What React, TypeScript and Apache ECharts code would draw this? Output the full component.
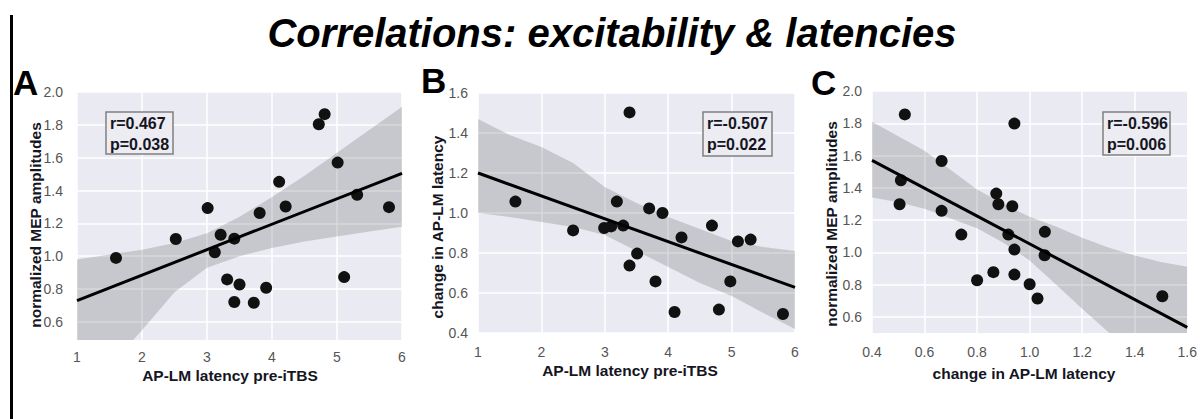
import React, { useEffect, useRef } from "react";
import * as echarts from "echarts";

// ---- Panel A: AP-LM latency pre-iTBS vs normalized MEP amplitudes
const aX = [1.6, 2.52, 3.01, 3.21, 3.12, 3.42, 3.31, 3.5, 3.42, 3.72, 3.91, 3.81, 4.11, 4.21, 4.72, 4.81, 5.01, 5.11, 5.31, 5.8];
const aY = [0.99, 1.105, 1.293, 1.131, 1.024, 1.107, 0.859, 0.828, 0.721, 0.717, 0.808, 1.263, 1.453, 1.303, 1.804, 1.865, 1.57, 0.873, 1.374, 1.299];
const aFit = [[1, 0.73], [6, 1.505]];
const aBandX = [1, 1.5, 2, 2.5, 3, 3.5, 4, 4.5, 5, 5.5, 6];
const aBandUpper = [0.98, 1.01, 1.04, 1.08, 1.14, 1.24, 1.36, 1.49, 1.63, 1.77, 1.91];
const aBandLower = [0.12, 0.33, 0.55, 0.78, 0.93, 1.0, 1.05, 1.09, 1.12, 1.15, 1.18];

// ---- Panel B: AP-LM latency pre-iTBS vs change in AP-LM latency
const bX = [1.59, 2.5, 2.99, 3.1, 3.29, 3.19, 3.39, 3.39, 3.51, 3.7, 3.91, 3.8, 4.21, 4.1, 4.69, 4.8, 4.98, 5.1, 5.3, 5.81];
const bY = [1.057, 0.913, 0.925, 0.933, 0.937, 1.057, 1.503, 0.737, 0.797, 1.023, 1.0, 0.658, 0.878, 0.505, 0.937, 0.517, 0.658, 0.858, 0.867, 0.495];
const bFit = [[1, 1.2], [6, 0.628]];
const bBandX = [1, 1.5, 2, 2.5, 3, 3.5, 4, 4.5, 5, 5.5, 6];
const bBandUpper = [1.47, 1.39, 1.33, 1.25, 1.13, 1.05, 0.98, 0.92, 0.86, 0.83, 0.81];
const bBandLower = [1.0, 0.98, 0.955, 0.93, 0.89, 0.81, 0.73, 0.65, 0.585, 0.5, 0.42];

// ---- Panel C: change in AP-LM latency vs normalized MEP amplitudes
const cX = [0.525, 0.51, 0.505, 0.665, 0.665, 0.74, 0.8, 0.862, 0.873, 0.881, 0.934, 0.942, 0.919, 0.942, 0.942, 1.0, 1.03, 1.058, 1.057, 1.505];
const cY = [1.855, 1.447, 1.298, 1.566, 1.257, 1.11, 0.827, 0.877, 1.364, 1.298, 1.286, 1.798, 1.11, 1.017, 0.862, 0.802, 0.714, 1.127, 0.982, 0.728];
const cFit = [[0.4, 1.57], [1.6, 0.535]];
const cBandX = [0.4, 0.5, 0.6, 0.7, 0.8, 0.9, 1.0, 1.1, 1.2, 1.3, 1.4, 1.5, 1.6];
const cBandUpper = [1.81, 1.72, 1.63, 1.51, 1.39, 1.3, 1.22, 1.16, 1.09, 1.03, 0.98, 0.94, 0.91];
const cBandLower = [1.34, 1.31, 1.27, 1.21, 1.15, 1.06, 0.95, 0.8, 0.65, 0.505, 0.36, 0.22, 0.08];

// ---- Axis ticks
const ampTicks = [0.6, 0.8, 1.0, 1.2, 1.4, 1.6, 1.8, 2.0];
const changeTicksY = [0.4, 0.6, 0.8, 1.0, 1.2, 1.4, 1.6];
const latencyTicksX = [1, 2, 3, 4, 5, 6];
const changeTicksX = [0.4, 0.6, 0.8, 1.0, 1.2, 1.4, 1.6];

// ---- Texts
const titleText = "Correlations: excitability & latencies";
const panelLetters = ["A", "B", "C"];
const xNames = ["AP-LM latency pre-iTBS", "AP-LM latency pre-iTBS", "change in AP-LM latency"];
const yNames = ["normalized MEP amplitudes", "change in AP-LM latency", "normalized MEP amplitudes"];
const statsR = ["r=0.467", "r=-0.507", "r=-0.596"];
const statsP = ["p=0.038", "p=0.022", "p=0.006"];

const FONT = "'Liberation Sans', Arial, Helvetica, sans-serif";
const BG = "#eaeaf2";
const TICK_COLOR = "#555";
const TEXT_DARK = "#15151f";

export default function App() {
  const ref = useRef<HTMLDivElement>(null);

  useEffect(() => {
    if (!ref.current) return;
    const chart = echarts.init(ref.current, undefined, { renderer: "svg" });

    const grids = [
      { left: 77, top: 92, width: 325, height: 248 },
      { left: 478, top: 93, width: 317, height: 240 },
      { left: 872, top: 91, width: 319, height: 242 },
    ];

    const gridCfg = grids.map((g) => ({
      ...g,
      show: true,
      backgroundColor: BG,
      borderWidth: 0,
      containLabel: false,
    }));

    const splitLine = { show: true, lineStyle: { color: "#ffffff", width: 1.5 } };
    const fmt1 = (v: number) => v.toFixed(1);
    const mkAxis = (
      gridIndex: number,
      min: number,
      max: number,
      ticks: number[],
      margin: number,
      formatter?: (v: number) => string
    ) => ({
      type: "value" as const,
      gridIndex,
      min,
      max,
      axisLine: { show: false },
      axisTick: { show: false, customValues: ticks },
      splitLine,
      axisLabel: {
        color: TICK_COLOR,
        fontSize: 14,
        fontFamily: FONT,
        margin,
        customValues: ticks,
        ...(formatter ? { formatter } : {}),
      },
    });

    const xAxes = [
      mkAxis(0, 1, 6, latencyTicksX, 10),
      mkAxis(1, 1, 6, latencyTicksX, 12),
      mkAxis(2, 0.4, 1.6, changeTicksX, 12, fmt1),
    ];
    const yAxes = [
      mkAxis(0, 0.49, 2.0, ampTicks, 14, fmt1),
      mkAxis(1, 0.4, 1.6, changeTicksY, 10, fmt1),
      mkAxis(2, 0.5, 2.0, ampTicks, 10, fmt1),
    ];

    const panels = [
      { x: aX, y: aY, fit: aFit, bx: aBandX, bu: aBandUpper, bl: aBandLower },
      { x: bX, y: bY, fit: bFit, bx: bBandX, bu: bBandUpper, bl: bBandLower },
      { x: cX, y: cY, fit: cFit, bx: cBandX, bu: cBandUpper, bl: cBandLower },
    ];

    const series: any[] = [];
    panels.forEach((p, i) => {
      const rows = p.bx.map((xv, k) => [xv, p.bl[k], p.bu[k]]);
      series.push({
        type: "custom",
        xAxisIndex: i,
        yAxisIndex: i,
        data: rows,
        clip: true,
        silent: true,
        z: 1,
        encode: { x: 0, y: [1, 2] },
        renderItem: (params: any, api: any) => {
          if (params.dataIndex !== 0) return null;
          const upperPts = rows.map((r) => api.coord([r[0], r[2]]));
          const lowerPts = rows.map((r) => api.coord([r[0], r[1]])).reverse();
          const cs = params.coordSys;
          return {
            type: "group",
            children: [
              {
                type: "polygon",
                shape: { points: upperPts.concat(lowerPts) },
                style: { fill: "rgba(0,0,0,0.15)" },
              },
            ],
            clipPath: {
              type: "rect",
              shape: { x: cs.x, y: cs.y, width: cs.width, height: cs.height },
            },
          };
        },
      });
      series.push({
        type: "scatter",
        xAxisIndex: i,
        yAxisIndex: i,
        data: p.x.map((xv, k) => [xv, p.y[k]]),
        symbolSize: 12,
        itemStyle: { color: "#111111", opacity: 1 },
        z: 3,
      });
      series.push({
        type: "line",
        xAxisIndex: i,
        yAxisIndex: i,
        data: p.fit,
        symbol: "none",
        lineStyle: { color: "#000000", width: 3 },
        z: 4,
      });
    });

    // "top"-aligned text: baseline sits at about y + 0.85 * fontSize
    const letterPos = [
      { x: 13, y: 65 },
      { x: 421, y: 63 },
      { x: 811, y: 65 },
    ];
    const xNamePos = [
      { x: 230, y: 367 },
      { x: 630, y: 362 },
      { x: 1024, y: 365 },
    ];
    const yNamePos = [
      { x: 35, y: 225 },
      { x: 437, y: 227 },
      { x: 831, y: 224 },
    ];
    const boxPos = [
      { x: 106, y: 112, w: 67, h: 42 },
      { x: 703, y: 112, w: 69, h: 44 },
      { x: 1103, y: 112, w: 67, h: 43 },
    ];

    const graphics: any[] = [
      {
        type: "rect",
        shape: { x: 10, y: 15, width: 3, height: 404 },
        style: { fill: "#000" },
      },
      {
        type: "text",
        x: 612,
        y: 13,
        style: {
          text: titleText,
          font: `italic bold 40px ${FONT}`,
          fill: "#000",
          align: "center",
          verticalAlign: "top",
        },
      },
    ];

    panelLetters.forEach((L, i) => {
      graphics.push({
        type: "text",
        x: letterPos[i].x,
        y: letterPos[i].y,
        style: { text: L, font: `bold 35px ${FONT}`, fill: "#000", align: "left", verticalAlign: "top" },
      });
      graphics.push({
        type: "text",
        x: xNamePos[i].x,
        y: xNamePos[i].y,
        style: { text: xNames[i], font: `bold 15.5px ${FONT}`, fill: TEXT_DARK, align: "center", verticalAlign: "top" },
      });
      graphics.push({
        type: "text",
        x: yNamePos[i].x,
        y: yNamePos[i].y,
        rotation: Math.PI / 2,
        style: { text: yNames[i], font: `bold 15.5px ${FONT}`, fill: TEXT_DARK, align: "center", verticalAlign: "middle" },
      });
      const b = boxPos[i];
      graphics.push({
        type: "rect",
        shape: { x: b.x, y: b.y, width: b.w, height: b.h },
        style: { fill: "#ececf2", stroke: "#808080", lineWidth: 1.5 },
        z: 10,
      });
      graphics.push({
        type: "text",
        x: b.x + 4,
        y: b.y + 3,
        style: { text: statsR[i], font: `bold 16px ${FONT}`, fill: TEXT_DARK, align: "left", verticalAlign: "top" },
        z: 11,
      });
      graphics.push({
        type: "text",
        x: b.x + 4,
        y: b.y + 24,
        style: { text: statsP[i], font: `bold 16px ${FONT}`, fill: TEXT_DARK, align: "left", verticalAlign: "top" },
        z: 11,
      });
    });

    chart.setOption({
      animation: false,
      backgroundColor: "#ffffff",
      grid: gridCfg,
      xAxis: xAxes,
      yAxis: yAxes,
      series,
      graphic: { elements: graphics },
    });

    return () => chart.dispose();
  }, []);

  return (
    <div
      ref={ref}
      style={{ position: "absolute", left: 0, top: 0, width: 1200, height: 419 }}
    />
  );
}
